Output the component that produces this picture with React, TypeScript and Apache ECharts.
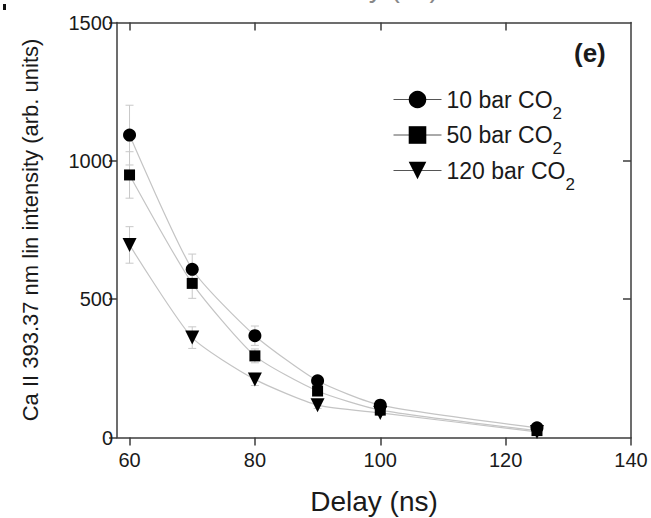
import React, { useEffect, useRef } from "react";
import * as echarts from "echarts";

const delays = [60, 70, 80, 90, 100, 125];
const seriesNames = ["10 bar", "50 bar", "120 bar"];
const bar10 = [1093, 608, 368, 205, 117, 35];
const bar50 = [949, 557, 295, 168, 99, 25];
const bar120 = [696, 361, 210, 117, 89, 20];
const err10 = [108, 55, 35, 18, 12, 8];
const err50 = [84, 54, 25, 15, 10, 6];
const err120 = [66, 39, 22, 12, 8, 5];
const xTicks = [60, 80, 100, 120, 140];
const yTicks = [0, 500, 1000, 1500];

const symbols = ["circle", "rect", "triangle"];
const symbolSizes = [13, 11, 14];

export default function App() {
  const ref = useRef<HTMLDivElement>(null);
  useEffect(() => {
    if (!ref.current) return;
    const chart = echarts.init(ref.current, null, { renderer: "svg" });
    const values = [bar10, bar50, bar120];
    const errs = [err10, err50, err120];
    const font = "Liberation Sans, Arial, sans-serif";
    const axisColor = "#3c3c3c";
    const textColor = "#1a1a1a";

    const lineSeries = values.map((vals, i) => ({
      name: seriesNames[i],
      type: "line",
      data: delays.map((d, j) => [d, vals[j]]),
      smooth: 0.2,
      symbol: symbols[i],
      symbolSize: symbolSizes[i],
      symbolRotate: i === 2 ? 180 : 0,
      itemStyle: { color: "#000" },
      lineStyle: { color: "#c4c4c4", width: 1.2 },
      z: 3,
    }));

    const errSeries = values.map((vals, i) => ({
      name: seriesNames[i] + " err",
      type: "custom",
      data: delays.map((d, j) => [d, vals[j] - errs[i][j], vals[j] + errs[i][j]]),
      renderItem: (params: any, api: any) => {
        const x = api.value(0);
        const lo = api.coord([x, api.value(1)]);
        const hi = api.coord([x, api.value(2)]);
        const w = 4;
        const style = { stroke: "#c8c8c8", lineWidth: 1 };
        return {
          type: "group",
          children: [
            { type: "line", shape: { x1: lo[0], y1: lo[1], x2: hi[0], y2: hi[1] }, style },
            { type: "line", shape: { x1: lo[0] - w, y1: lo[1], x2: lo[0] + w, y2: lo[1] }, style },
            { type: "line", shape: { x1: hi[0] - w, y1: hi[1], x2: hi[0] + w, y2: hi[1] }, style },
          ],
        };
      },
      z: 2,
    }));

    chart.setOption({
      animation: false,
      textStyle: { fontFamily: font, color: textColor },
      grid: { left: 117, right: 20, top: 22.5, bottom: 80.5, outerBoundsMode: "none" },
      legend: {
        data: seriesNames,
        orient: "vertical",
        left: 388,
        top: 83,
        itemWidth: 48,
        itemHeight: 22,
        itemGap: 2,
        selectedMode: false,
        lineStyle: { color: "#555", width: 1 },
        formatter: (n: string) => `${n} CO{sub|2}`,
        textStyle: {
          fontFamily: font,
          fontSize: 23,
          color: textColor,
          rich: {
            sub: { fontSize: 17, fontFamily: font, color: textColor, padding: [27, 0, 0, 0] },
          },
        },
      },
      xAxis: [
        {
          type: "value",
          min: 58,
          max: 140,
          position: "bottom",
          name: "Delay (ns)",
          nameLocation: "middle",
          nameGap: 50,
          nameTextStyle: { fontSize: 28, fontFamily: font, color: textColor },
          axisLine: { show: true, lineStyle: { color: axisColor, width: 1.5 } },
          axisTick: { show: true, length: 8, customValues: xTicks, lineStyle: { color: axisColor, width: 1.5 } },
          axisLabel: { customValues: xTicks, fontSize: 20, margin: 12, color: textColor, fontFamily: font, formatter: (v: number) => String(v) },
          splitLine: { show: false },
        },
        {
          type: "value",
          min: 58,
          max: 140,
          position: "top",
          axisLine: { show: true, onZero: false, lineStyle: { color: axisColor, width: 1.5 } },
          axisTick: { show: true, inside: true, length: 8, customValues: [60, 80, 100, 120], lineStyle: { color: axisColor, width: 1.5 } },
          axisLabel: { show: false },
          splitLine: { show: false },
        },
      ],
      yAxis: [
        {
          type: "value",
          min: 0,
          max: 1500,
          interval: 500,
          position: "left",
          name: "Ca II 393.37 nm lin intensity (arb. units)",
          nameLocation: "middle",
          nameGap: 76,
          nameTextStyle: { fontSize: 22, fontFamily: font, color: textColor },
          axisLine: { show: true, lineStyle: { color: axisColor, width: 1.5 } },
          axisTick: { show: true, length: 8, customValues: yTicks, lineStyle: { color: axisColor, width: 1.5 } },
          axisLabel: { customValues: yTicks, fontSize: 20, margin: 4, color: textColor, fontFamily: font, formatter: (v: number) => String(v) },
          splitLine: { show: false },
        },
        {
          type: "value",
          min: 0,
          max: 1500,
          interval: 500,
          position: "right",
          axisLine: { show: true, onZero: false, lineStyle: { color: axisColor, width: 1.5 } },
          axisTick: { show: true, inside: true, length: 8, customValues: [500, 1000], lineStyle: { color: axisColor, width: 1.5 } },
          axisLabel: { show: false },
          splitLine: { show: false },
        },
      ],
      graphic: [
        {
          type: "text",
          left: 574,
          top: 40,
          style: { text: "(e)", font: `bold 26px ${font}`, fill: textColor },
        },
        {
          type: "text",
          x: 375,
          y: 1,
          style: { text: "Delay (ns)", font: `28px ${font}`, fill: "#888", align: "center", verticalAlign: "bottom" },
        },
        {
          type: "rect",
          shape: { x: 3, y: 4, width: 3, height: 6 },
          style: { fill: "#111" },
        },
      ],
      series: [...errSeries, ...lineSeries],
    });
    return () => chart.dispose();
  }, []);
  return (
    <div
      ref={ref}
      style={{ position: "fixed", left: 0, top: 0, width: 651, height: 518, background: "#fff" }}
    />
  );
}
